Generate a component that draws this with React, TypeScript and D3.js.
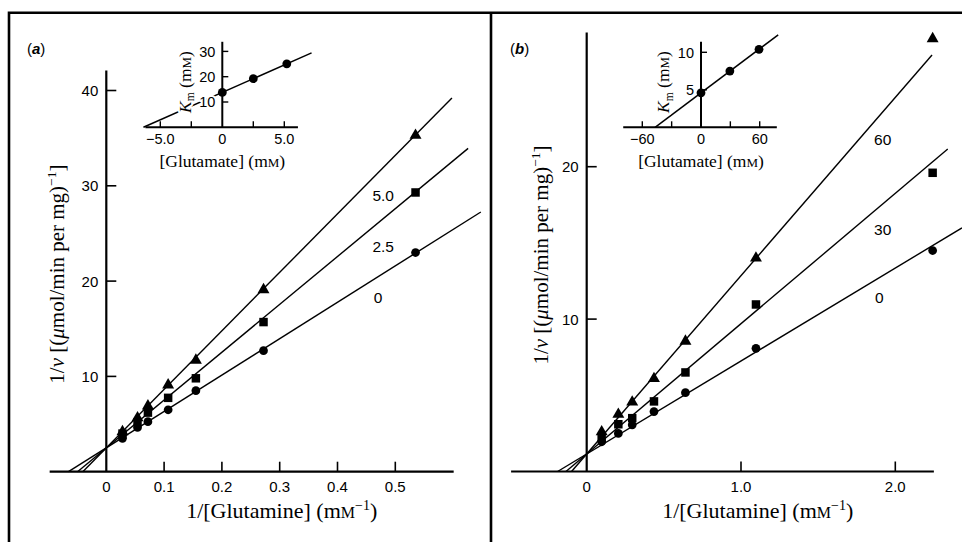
import React from 'react';
import * as d3 from 'd3';

// ---- panel (a): 1/v against 1/[glutamine], glutamate 0, 2.5, 5.0 mM ----
const glnA = [0.028, 0.054, 0.072, 0.107, 0.155, 0.272, 0.535];
const aGlu0 = [3.5, 4.65, 5.25, 6.5, 8.5, 12.7, 23.0];
const aGlu25 = [4.0, 5.2, 6.2, 7.75, 9.8, 15.7, 29.3];
const aGlu50 = [4.2, 5.65, 6.9, 9.1, 11.7, 19.1, 35.3];
const aLineLabels = ['0', '2.5', '5.0'];
const aIntercept = 2.5;
const aSlopes = [38.2, 50.2, 61.4];
const aLineEnds = [0.648, 0.626, 0.598];
const aXTicks = [0, 0.1, 0.2, 0.3, 0.4, 0.5];
const aYTicks = [10, 20, 30, 40];

// ---- panel (b): glutamate 0, 30, 60 mM ----
const glnB = [0.097, 0.205, 0.295, 0.436, 0.64, 1.097, 2.242];
const bGlu0 = [1.95, 2.5, 3.06, 3.93, 5.17, 8.08, 14.5];
const bGlu30 = [2.2, 3.1, 3.5, 4.6, 6.5, 10.96, 19.6];
const bGlu60 = [2.6, 3.75, 4.55, 6.1, 8.55, 14.0, 28.4];
const bLineLabels = ['0', '30', '60'];
const bIntercept = 1.15;
const bSlopes = [6.1, 8.55, 11.7];
const bLineEnds = [2.432, 2.34, 2.238];
const bXTicks = [0, 1, 2];
const bYTicks = [10, 20];

// ---- insets: Km against [glutamate] ----
const insetAGlu = [0, 2.5, 5.2];
const insetAKm = [13.8, 19.2, 25.1];
const insetAFit = { intercept: 13.8, slope: 2.17, end: 7.2 };
const insetAXTicks = [-5, -2.5, 0, 2.5, 5];
const insetAXLabels = [-5, 0, 5];
const insetAYTicks = [10, 20, 30];

const insetBGlu = [0, 29.5, 59.3];
const insetBKm = [4.6, 7.5, 10.4];
const insetBFit = { intercept: 4.6, slope: 0.098, end: 78.9 };
const insetBXTicks = [-60, -30, 0, 30, 60];
const insetBXLabels = [-60, 0, 60];
const insetBYTicks = [5, 10];

const SANS = '"Liberation Sans", Arial, sans-serif';
const SERIF = '"Liberation Serif", "Times New Roman", serif';
const symbols = [d3.symbolCircle, d3.symbolSquare, d3.symbolTriangle];
const symbolSizes = [60, 72, 62];

const minus = (s: string) => s.replace('-', '\u2212');

function fitPath(x, y, intercept, slope, end) {
  const start = -intercept / slope;
  return d3.line()([[x(start), y(0)], [x(end), y(intercept + slope * end)]]);
}

function MainPanel({ p }) {
  const x = d3.scaleLinear().domain(p.xDomain).range(p.xRange);
  const y = d3.scaleLinear().domain(p.yDomain).range(p.yRange);
  const x0 = x(0), y0 = y(0);
  const yMid = (y0 + y(p.yTop)) / 2;
  return (
    <g>
      <line x1={x(p.xExtent[0])} x2={x(p.xExtent[1])} y1={y0} y2={y0} stroke="#000" strokeWidth={2.2} />
      <line x1={x0} x2={x0} y1={y0} y2={y(p.yTop)} stroke="#000" strokeWidth={2.2} />
      {p.xTicks.map(t => (
        <g key={'x' + t}>
          {t !== 0 && <line x1={x(t)} x2={x(t)} y1={y0} y2={y0 - 10} stroke="#000" strokeWidth={1.6} />}
          <text x={x(t)} y={y0 + 20} textAnchor="middle" fontFamily={SANS} fontSize={15}>
            {t === 0 ? '0' : t.toFixed(1)}
          </text>
        </g>
      ))}
      {p.yTicks.map(t => (
        <g key={'y' + t}>
          <line x1={x0} x2={x0 + 10} y1={y(t)} y2={y(t)} stroke="#000" strokeWidth={1.6} />
          <text x={x0 - 8} y={y(t)} dy="0.36em" textAnchor="end" fontFamily={SANS} fontSize={15}>{t}</text>
        </g>
      ))}
      {p.slopes.map((s, i) => (
        <path key={'l' + i} d={fitPath(x, y, p.intercept, s, p.ends[i])} stroke="#000" strokeWidth={1.4} fill="none" />
      ))}
      {p.series.map((vals, i) =>
        vals.map((v, j) => (
          <path key={'p' + i + '-' + j}
            d={d3.symbol(symbols[i], symbolSizes[i])()}
            transform={`translate(${x(p.xs[j])},${y(v)})`} fill="#000" />
        ))
      )}
      {p.lineLabels.map((l, i) => (
        <text key={'t' + i} x={x(p.labelAt[i][0])} y={y(p.labelAt[i][1])} dy="0.36em" textAnchor="middle"
          fontFamily={SANS} fontSize={15.5}>{l}</text>
      ))}
      <text transform={`translate(${x0 - p.yLabelOffset},${yMid + 3}) rotate(-90)`} dy="0.33em" textAnchor="middle"
        fontFamily={SERIF} fontSize={21}>
        1/<tspan fontStyle="italic">v</tspan> [(<tspan fontStyle="italic">μ</tspan>mol/min per mg)
        <tspan dy={-8} fontSize={13.5}>−1</tspan><tspan dy={8}>]</tspan>
      </text>
      <text x={p.xLabelX} y={y0 + 46} textAnchor="middle" fontFamily={SERIF} fontSize={22}>
        1/[Glutamine] (m<tspan fontSize={16}>M</tspan><tspan dy={-8} fontSize={14}>−1</tspan><tspan dy={8}>)</tspan>
      </text>
      <text x={p.tagX} y={54} fontFamily={SANS} fontSize={15}>
        (<tspan fontStyle="italic" fontWeight="bold">{p.tag}</tspan>)
      </text>
    </g>
  );
}

function Inset({ p }) {
  const x = d3.scaleLinear().domain(p.xDomain).range(p.xRange);
  const y = d3.scaleLinear().domain(p.yDomain).range(p.yRange);
  const x0 = x(0), y0 = y(0);
  const halo = { stroke: '#fff', strokeWidth: 4, paintOrder: 'stroke', strokeLinejoin: 'round' } as any;
  return (
    <g>
      <path d={fitPath(x, y, p.fit.intercept, p.fit.slope, p.fit.end)} stroke="#000" strokeWidth={1.5} fill="none" />
      <line x1={x(p.xExtent[0])} x2={x(p.xExtent[1])} y1={y0} y2={y0} stroke="#000" strokeWidth={2} />
      <line x1={x0} x2={x0} y1={y0} y2={y(p.yTop)} stroke="#000" strokeWidth={2} />
      {p.xTicks.filter(t => t !== 0).map(t => (
        <line key={'xt' + t} x1={x(t)} x2={x(t)} y1={y0} y2={y0 - 6} stroke="#000" strokeWidth={1.4} />
      ))}
      {p.xLabels.map(t => (
        <text key={'xl' + t} x={x(t)} y={y0 + 17} textAnchor="middle" fontFamily={SANS} fontSize={14.5}>
          {minus(t === 0 ? '0' : p.xFmt(t))}
        </text>
      ))}
      {p.yTicks.map(t => (
        <g key={'yt' + t}>
          <line x1={x0} x2={x0 + 6} y1={y(t)} y2={y(t)} stroke="#000" strokeWidth={1.4} />
          <text x={x0 - 7} y={y(t)} dy="0.36em" textAnchor="end" fontFamily={SANS} fontSize={14.5} {...halo}>{t}</text>
        </g>
      ))}
      {p.glu.map((g, i) => (
        <circle key={'c' + i} cx={x(g)} cy={y(p.km[i])} r={4.4} fill="#000" />
      ))}
      <text transform={`translate(${x0 - 38},${82}) rotate(-90)`} dy="0.36em" textAnchor="middle"
        fontFamily={SERIF} fontSize={17.5} {...halo}>
        <tspan fontStyle="italic">K</tspan><tspan dy={3.5} fontSize={11.5}>m</tspan>
        <tspan dy={-3.5}> (m</tspan><tspan fontSize={13}>M</tspan>)
      </text>
      <text x={x0} y={y0 + 40} textAnchor="middle" fontFamily={SERIF} fontSize={17.5}>
        [Glutamate] (m<tspan fontSize={13}>M</tspan>)
      </text>
    </g>
  );
}

const panelA = {
  xDomain: [0, 0.5], xRange: [106.3, 395.3], yDomain: [0, 40], yRange: [471.7, 90.5],
  xExtent: [-0.098, 0.601], yTop: 42.1,
  xTicks: aXTicks, yTicks: aYTicks, xs: glnA, series: [aGlu0, aGlu25, aGlu50],
  intercept: aIntercept, slopes: aSlopes, ends: aLineEnds, lineLabels: aLineLabels,
  labelAt: [[0.47, 18.3], [0.479, 23.6], [0.479, 29.0]],
  yLabelOffset: 49, xLabelX: 281.7, tag: 'a', tagX: 27,
};

const panelB = {
  xDomain: [0, 2], xRange: [586.7, 895.3], yDomain: [0, 20], yRange: [471.5, 166.7],
  xExtent: [-0.49, 2.25], yTop: 28.8,
  xTicks: bXTicks, yTicks: bYTicks, xs: glnB, series: [bGlu0, bGlu30, bGlu60],
  intercept: bIntercept, slopes: bSlopes, ends: bLineEnds, lineLabels: bLineLabels,
  labelAt: [[1.896, 11.4], [1.918, 15.9], [1.918, 21.8]],
  yLabelOffset: 45.5, xLabelX: 757.7, tag: 'b', tagX: 510,
};

const insetA = {
  xDomain: [0, 5], xRange: [222.3, 284.3], yDomain: [0, 30], yRange: [127.3, 51.4],
  xExtent: [-6.2, 6.1], yTop: 33.8, xTicks: insetAXTicks, xLabels: insetAXLabels, yTicks: insetAYTicks,
  glu: insetAGlu, km: insetAKm, fit: insetAFit, xFmt: (t: number) => t.toFixed(1),
};

const insetB = {
  xDomain: [0, 60], xRange: [701, 759.7], yDomain: [0, 10], yRange: [127.3, 52.3],
  xExtent: [-79.5, 77.5], yTop: 11.4, xTicks: insetBXTicks, xLabels: insetBXLabels, yTicks: insetBYTicks,
  glu: insetBGlu, km: insetBKm, fit: insetBFit, xFmt: (t: number) => String(t),
};

export default function App() {
  return (
    <svg width={962} height={542} style={{ position: 'absolute', left: 0, top: 0, background: '#fff' }}>
      <rect width={962} height={542} fill="#fff" />
      {/* frame */}
      <path d="M9,542 V12.7 H962 M491,12.7 V542" stroke="#000" strokeWidth={2.6} fill="none" />
      <MainPanel p={panelA} />
      <MainPanel p={panelB} />
      <Inset p={insetA} />
      <Inset p={insetB} />
    </svg>
  );
}
